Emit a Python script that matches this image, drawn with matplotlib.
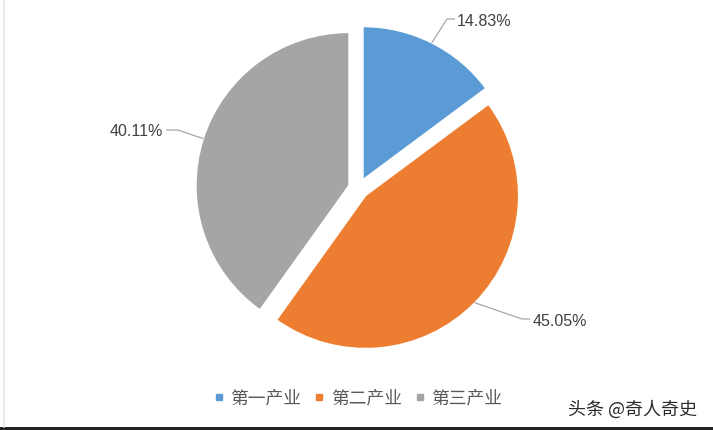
import numpy as np
import matplotlib
matplotlib.use("Agg")
import matplotlib.pyplot as plt
from matplotlib.lines import Line2D
from matplotlib.patches import Rectangle

# ---- data ----
categories = ["第一产业", "第二产业", "第三产业"]
shares = [14.83, 45.05, 40.11]
label_texts = ["14.83%", "45.05%", "40.11%"]
colors = ["#5B9BD5", "#ED7D31", "#A5A5A5"]

plt.rcParams['font.family'] = ['Noto Sans CJK SC', 'DejaVu Sans']

W, H = 713, 431
fig = plt.figure(figsize=(W / 100, H / 100), dpi=100)
fig.patch.set_facecolor("white")
ax = fig.add_axes([0, 0, 1, 1])

center = (358.5, 241.5)
radius = 153
wedges, _ = ax.pie(shares, colors=colors, startangle=90, counterclock=False,
                   center=center, radius=radius, explode=[10, 10, 10],
                   wedgeprops=dict(edgecolor="white", linewidth=1.0))
ax.set_xlim(0, W)
ax.set_ylim(0, H)
ax.set_aspect("equal")
ax.axis("off")

# leader lines + labels (elbow / text positions are layout)
elbows = [(447, 411), (522, 111), (178, 300)]
ends = [(455, 411), (530, 111), (166, 300)]
text_pos = [(457, 410), (533, 110), (163, 300)]
aligns = ["left", "left", "right"]
for w, el, en, tp, ha, txt in zip(wedges, elbows, ends, text_pos, aligns, label_texts):
    tm = np.deg2rad(0.5 * (w.theta1 + w.theta2))
    cx, cy = w.center
    px, py = cx + w.r * np.cos(tm), cy + w.r * np.sin(tm)
    ax.plot([px, el[0], en[0]], [py, el[1], en[1]], color="#A6A6A6", lw=0.9,
            solid_capstyle="butt")
    ax.text(tp[0], tp[1], txt, ha=ha, va="center", fontsize=11.5,
            family=["Liberation Sans", "DejaVu Sans"], color="#404040")

# legend
handles = [Line2D([], [], marker="s", linestyle="", color=c, markersize=5)
           for c in colors]
leg = fig.legend(handles, categories, loc="center", bbox_to_anchor=(358 / W, 32 / H),
                 ncol=3, frameon=False, fontsize=12.8, handlelength=0.6,
                 handletextpad=0.35, columnspacing=0.7, borderpad=0)
for t in leg.get_texts():
    t.set_color("#595959")

# watermark
fig.text(568 / W, 21 / H, "头条 @奇人奇史", ha="left", va="center", fontsize=13,
         color="#2a2a2a")

# frame decorations
fig.patches.append(Rectangle((0, 0), 1, 3.5 / H, transform=fig.transFigure,
                             facecolor="#222222", edgecolor="none"))
fig.lines.append(Line2D([3.5 / W, 3.5 / W], [3.5 / H, 1], transform=fig.transFigure,
                        color="#E6E6E6", lw=1.2))

fig.savefig("out.png", dpi=100, facecolor="white")
